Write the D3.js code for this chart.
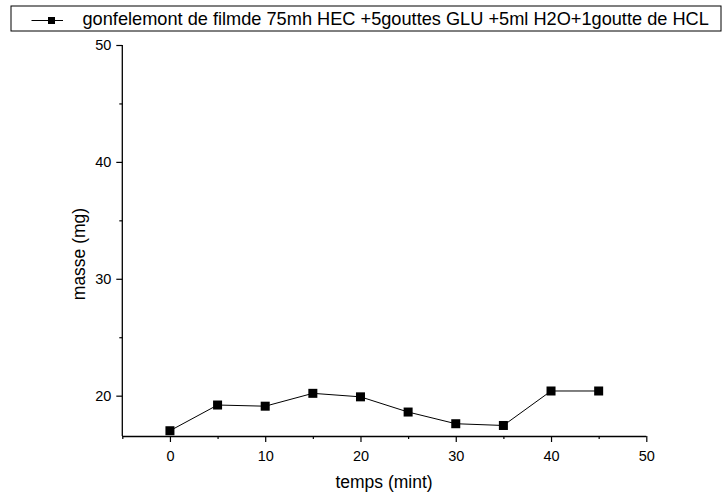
<!DOCTYPE html>
<html><head><meta charset="utf-8">
<script src="https://cdn.jsdelivr.net/npm/d3@7"></script>
<style>body{margin:0;background:#fff}svg{display:block}text{font-family:"Liberation Sans",Arial,sans-serif;fill:#000}</style>
</head><body><svg id="c" width="722" height="492"></svg>
<script>
const times = [0,5,10,15,20,25,30,35,40,45];
const masses = [17.0,19.2,19.1,20.2,19.9,18.6,17.6,17.45,20.4,20.4];
const xMajor = [0,10,20,30,40,50];
const xMinor = [-5,5,15,25,35,45];
const yMajor = [20,30,40,50];
const yMinor = [25,35,45];
const seriesName = "gonfelemont de filmde 75mh HEC +5gouttes GLU +5ml H2O+1goutte de HCL";
const xTitle = "temps (mint)";
const yTitle = "masse (mg)";

const svg = d3.select("#c");
const x = d3.scaleLinear().domain([-5,50]).range([122.3,646.3]);
const y = d3.scaleLinear().domain([16.55,50]).range([436,45]);

const gx = svg.append("g").attr("transform","translate(0,436)");
gx.call(d3.axisBottom(x).tickValues(xMajor).tickSize(6).tickPadding(9).tickFormat(d3.format("d")));
gx.append("g").attr("class","minor").call(d3.axisBottom(x).tickValues(xMinor).tickSize(3).tickFormat(""));
const gy = svg.append("g").attr("transform","translate(122.3,0)");
gy.call(d3.axisLeft(y).tickValues(yMajor).tickSize(6).tickPadding(5).tickFormat(d3.format("d")));
gy.append("g").attr("class","minor").call(d3.axisLeft(y).tickValues(yMinor).tickSize(3).tickFormat(""));
svg.selectAll(".minor .domain").remove();
svg.selectAll(".domain").attr("stroke","#000").attr("stroke-width",1.3);
svg.selectAll(".tick line").attr("stroke","#000").attr("stroke-width",1.2);
svg.selectAll(".tick text").attr("font-size","14.5px").attr("font-family","Liberation Sans, Arial, sans-serif").attr("fill","#000");
gx.select(".domain").attr("d","M122.3,0.5H646.3");
gy.select(".domain").attr("d","M0,45V436");

const line = d3.line().x((d,i)=>x(times[i])).y(d=>y(d));
svg.append("path").datum(masses).attr("d",line).attr("fill","none").attr("stroke","#000").attr("stroke-width",1);
const ms = 9;
svg.selectAll("rect.m").data(masses).enter().append("rect").attr("class","m")
  .attr("x",(d,i)=>x(times[i])-ms/2).attr("y",d=>y(d)-ms/2).attr("width",ms).attr("height",ms).attr("fill","#000");

svg.append("text").attr("x",384).attr("y",488).attr("text-anchor","middle").attr("font-size","17.5px").text(xTitle);
svg.append("text").attr("transform","translate(85,254) rotate(-90)").attr("text-anchor","middle").attr("font-size","17.5px").text(yTitle);

// legend
svg.append("rect").attr("x",11).attr("y",6).attr("width",710).attr("height",25).attr("fill","#fff").attr("stroke","#000").attr("stroke-width",1);
svg.append("line").attr("x1",31.5).attr("x2",63).attr("y1",20.5).attr("y2",20.5).attr("stroke","#000").attr("stroke-width",1);
svg.append("rect").attr("x",48).attr("y",17).attr("width",7).attr("height",7).attr("fill","#000");
svg.append("text").attr("x",82.5).attr("y",25).attr("font-size","18.2px").text(seriesName);
</script></body></html>
